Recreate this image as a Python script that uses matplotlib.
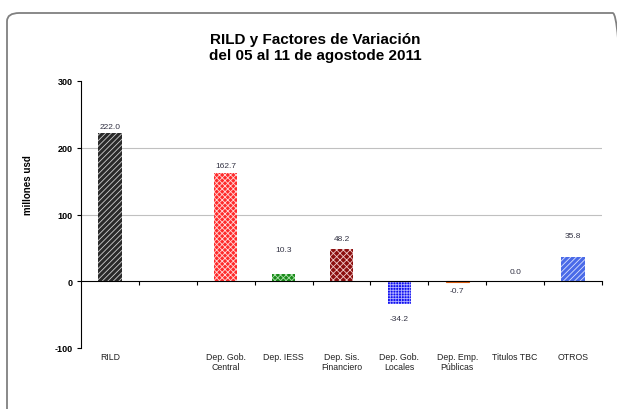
import numpy as np
import matplotlib.pyplot as plt
from matplotlib.patches import FancyBboxPatch
from matplotlib.transforms import blended_transform_factory

plt.rcParams['font.family'] = ['Liberation Sans', 'DejaVu Sans']
plt.rcParams['axes.unicode_minus'] = False
plt.rcParams['hatch.linewidth'] = 0.6

# data
categories = ['RILD', '', 'Dep. Gob.\nCentral', 'Dep. IESS', 'Dep. Sis.\nFinanciero',
              'Dep. Gob.\nLocales', 'Dep. Emp.\nPúblicas', 'Titulos TBC', 'OTROS']
values = [222.0, None, 162.7, 10.3, 48.2, -34.2, -0.7, 0.0, 35.8]
face_colors = ['#2a2a2a', 'none', '#ff2a2a', '#1a8a1a', '#8b1010', '#1010f0', '#e06010', 'none', '#4a6ae8']
hatch_colors = ['#d0d0d0', 'none', '#ffd8d8', '#a8e0a8', '#f0c8c8', '#b0b0ff', '#e06010', 'none', '#d8e0ff']
hatches = ['//////', '', 'xxxxxx', 'xxxxxx', 'xxxxx', '++++++', '', '', '//////']
# Excel-style label offsets (px)
label_off = [7, 0, 7, 25, 11, 14, 9, 10, 22]

fig = plt.figure(figsize=(6.17, 4.10), dpi=100)

# rounded frame (right side runs off the image)
frame = FancyBboxPatch((7 / 617, -0.05), 618 / 617, 1 - 14 / 410 + 0.05,
                       boxstyle='round,pad=0,rounding_size=0.02',
                       transform=fig.transFigure, facecolor='none',
                       edgecolor='#808080', linewidth=1.3, zorder=-5)
fig.patches.append(frame)

ax = fig.add_axes([81 / 617, 1 - 349 / 410, (602 - 81) / 617, (349 - 82) / 410])
ax.set_facecolor('none')

x = np.arange(len(categories))
for i, v in enumerate(values):
    if v is None:
        continue
    lw = 0.8 if hatches[i] == '' else 0
    ax.bar(x[i], v, width=0.4, color=face_colors[i], edgecolor=hatch_colors[i],
           hatch=hatches[i], linewidth=lw, zorder=3)
    off = label_off[i] * 0.72
    if v >= 0:
        ax.annotate(f'{v:.1f}', (x[i], v), xytext=(0, off), textcoords='offset points',
                    ha='center', va='center', fontsize=6, color='#333344')
    else:
        ax.annotate(f'{v:.1f}', (x[i], v), xytext=(0, -off), textcoords='offset points',
                    ha='center', va='center', fontsize=6, color='#333344')

ax.set_xlim(-0.5, len(categories) - 0.5)
ax.set_ylim(-100, 300)
ax.set_yticks([-100, 0, 100, 200, 300])
ax.tick_params(axis='y', labelsize=6.5, length=3, width=0.8, pad=3)
for lbl in ax.get_yticklabels():
    lbl.set_fontweight('bold')
for yv in [100, 200]:
    ax.axhline(yv, color='#c0c0c0', linewidth=0.8, zorder=1)

ax.spines['top'].set_visible(False)
ax.spines['right'].set_visible(False)
ax.spines['bottom'].set_position(('data', 0))
ax.spines['left'].set_linewidth(0.8)
ax.spines['bottom'].set_linewidth(0.8)
ax.spines['bottom'].set_zorder(4)
ax.set_xticks(np.arange(0.5, len(categories) - 0.5, 1.0))
ax.set_xticks([len(categories) - 0.5], minor=True)
ax.tick_params(axis='x', which='both', length=3, width=0.8, direction='out', labelbottom=False)

trans = blended_transform_factory(ax.transData, ax.transAxes)
for i, c in enumerate(categories):
    ax.text(x[i], -0.015, c, transform=trans, ha='center', va='top',
            fontsize=6.3, color='#222222', linespacing=1.1)

fig.text(28 / 617, 1 - 185 / 410, 'millones usd', rotation=90, ha='center', va='center',
         fontsize=7, fontweight='bold')

fig.text(315 / 617, 1 - 48 / 410, 'RILD y Factores de Variación\ndel 05 al 11 de agostode 2011',
         ha='center', va='center', fontsize=11, fontweight='bold', linespacing=1.1)

fig.savefig('out.png', dpi=100)
